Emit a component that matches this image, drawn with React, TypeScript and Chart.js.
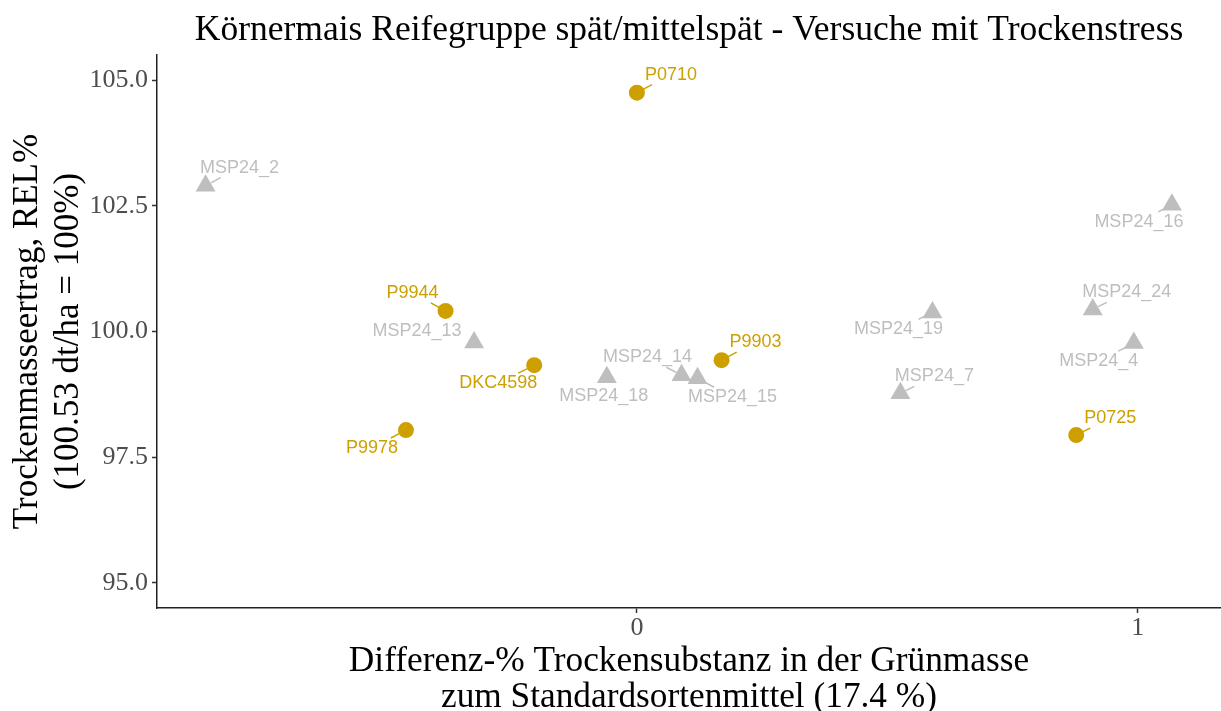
import React, { useEffect, useRef } from 'react';
import { Chart, registerables } from 'chart.js';

Chart.register(...registerables);

// ---- data ----
const chartTitle = 'Körnermais Reifegruppe spät/mittelspät - Versuche mit Trockenstress';
const xTitleLines = ['Differenz-% Trockensubstanz in der Grünmasse', 'zum Standardsortenmittel (17.4 %)'];
const yTitleLines = ['Trockenmasseertrag, REL%', '(100.53 dt/ha = 100%)'];

const sortenNames = ['P0710', 'P9944', 'DKC4598', 'P9978', 'P9903', 'P0725'];
const sortenX = [0.0, -0.382, -0.205, -0.461, 0.169, 0.877];
const sortenY = [104.75, 100.41, 99.33, 98.04, 99.43, 97.94];

const mspNames = ['MSP24_2', 'MSP24_13', 'MSP24_18', 'MSP24_14', 'MSP24_15', 'MSP24_7', 'MSP24_19', 'MSP24_24', 'MSP24_4', 'MSP24_16'];
const mspX = [-0.861, -0.325, -0.06, 0.089, 0.121, 0.526, 0.59, 0.91, 0.992, 1.068];
const mspY = [102.9, 99.78, 99.09, 99.13, 99.07, 98.77, 100.38, 100.44, 99.77, 102.52];

const yTicks = [95, 97.5, 100, 102.5, 105];
const xTicks = [0, 1];

// ---- styling / layout ----
const GOLD = '#CDA000';
const GREY = '#BEBEBE';
const SERIF = '"Liberation Serif", "Times New Roman", serif';
const SANS = '"Liberation Sans", Arial, sans-serif';

// repel-style label placement (pixel offsets of label centre from its point)
const labelOffsets: Record<string, [number, number]> = {
  P0710: [34, -18],
  P9944: [-33, -18],
  DKC4598: [-36, 18],
  P9978: [-34, 18],
  P9903: [34, -18],
  P0725: [34, -17],
  MSP24_2: [34, -18],
  MSP24_13: [-57, -12],
  MSP24_18: [-3, 19],
  MSP24_14: [-34, -18],
  MSP24_15: [35, 19],
  MSP24_7: [34, -17],
  MSP24_19: [-34, 17],
  MSP24_24: [34, -17],
  MSP24_4: [-35, 18],
  MSP24_16: [-33, 17],
};

const labelPlugin = {
  id: 'repelLabels',
  afterDatasetsDraw(chart: any) {
    const ctx = chart.ctx;
    ctx.save();
    ctx.font = `18px ${SANS}`;
    ctx.textAlign = 'center';
    ctx.textBaseline = 'middle';
    chart.data.datasets.forEach((ds: any, di: number) => {
      const meta = chart.getDatasetMeta(di);
      const color = ds.labelColor;
      const rStart = ds.segStart;
      meta.data.forEach((el: any, i: number) => {
        const name = ds.names[i];
        const off = labelOffsets[name] || [0, -18];
        const px = el.x;
        const py = el.y;
        const tx = px + off[0];
        const ty = py + off[1];
        const w = ctx.measureText(name).width;
        const pad = 3;
        const bx0 = tx - w / 2 - pad;
        const bx1 = tx + w / 2 + pad;
        const by0 = ty - 7 - pad;
        const by1 = ty + 7 + pad;
        const dx = tx - px;
        const dy = ty - py;
        const full = Math.hypot(dx, dy);
        const slab = (p: number, d: number, a: number, b: number) => {
          if (Math.abs(d) < 1e-9) return -Infinity;
          return Math.min((a - p) / d, (b - p) / d);
        };
        const tEnter = Math.max(0, slab(px, dx, bx0, bx1), slab(py, dy, by0, by1));
        const endLen = tEnter * full;
        if (endLen - rStart > 5) {
          const ux = dx / full;
          const uy = dy / full;
          ctx.strokeStyle = color;
          ctx.lineWidth = 1.5;
          ctx.beginPath();
          ctx.moveTo(px + ux * rStart, py + uy * rStart);
          ctx.lineTo(px + ux * endLen, py + uy * endLen);
          ctx.stroke();
        }
        ctx.fillStyle = color;
        ctx.fillText(name, tx, ty);
      });
    });
    ctx.restore();
  },
};

const titlePlugin = {
  id: 'plotTitle',
  afterDraw(chart: any) {
    const { ctx, chartArea } = chart;
    ctx.save();
    ctx.font = `35.5px ${SERIF}`;
    ctx.fillStyle = '#000';
    ctx.textAlign = 'center';
    ctx.textBaseline = 'alphabetic';
    ctx.fillText(chartTitle, (chartArea.left + chartArea.right) / 2, 40);
    ctx.restore();
  },
};

export default function App() {
  const canvasRef = useRef<HTMLCanvasElement | null>(null);

  useEffect(() => {
    if (!canvasRef.current) return;
    const chart = new Chart(canvasRef.current, {
      type: 'scatter',
      data: {
        datasets: [
          {
            label: 'MSP',
            data: mspX.map((x, i) => ({ x, y: mspY[i] })),
            pointStyle: 'triangle',
            pointRadius: 11.5,
            pointHoverRadius: 11.5,
            backgroundColor: GREY,
            borderColor: GREY,
            borderWidth: 0,
            names: mspNames,
            labelColor: GREY,
            segStart: 6,
          } as any,
          {
            label: 'Sorten',
            data: sortenX.map((x, i) => ({ x, y: sortenY[i] })),
            pointStyle: 'circle',
            pointRadius: 8,
            pointHoverRadius: 8,
            backgroundColor: GOLD,
            borderColor: GOLD,
            borderWidth: 0,
            names: sortenNames,
            labelColor: GOLD,
            segStart: 7,
          } as any,
        ],
      },
      options: {
        responsive: false,
        animation: false,
        events: [],
        layout: { autoPadding: false, padding: { top: 55, left: 0, right: 0, bottom: 0 } },
        plugins: {
          legend: { display: false },
          tooltip: { enabled: false },
          title: { display: false },
        },
        scales: {
          x: {
            type: 'linear',
            min: -0.958,
            max: 1.166,
            afterBuildTicks: (s: any) => {
              s.ticks = xTicks.map((v) => ({ value: v }));
            },
            afterFit: (s: any) => {
              s.height = 103;
              s.paddingLeft = 0;
              s.paddingRight = 0;
            },
            ticks: {
              autoSkip: false,
              padding: 0,
              color: '#4d4d4d',
              font: { family: SERIF, size: 26 },
              callback: (v: any) => String(v),
            },
            grid: {
              drawOnChartArea: false,
              drawTicks: true,
              tickLength: 5,
              tickWidth: 1.5,
              color: '#333',
            },
            border: { display: true, color: '#222', width: 1.5 },
            title: {
              display: true,
              text: xTitleLines,
              color: '#000',
              font: { family: SERIF, size: 35.3, lineHeight: 1.0 },
              padding: { top: 0, bottom: -4 },
            },
          },
          y: {
            type: 'linear',
            min: 94.5,
            max: 105.5,
            afterBuildTicks: (s: any) => {
              s.ticks = yTicks.map((v) => ({ value: v }));
            },
            afterFit: (s: any) => {
              s.width = 157;
              s.paddingTop = 0;
              s.paddingBottom = 0;
            },
            ticks: {
              autoSkip: false,
              padding: 4,
              color: '#4d4d4d',
              font: { family: SERIF, size: 26 },
              callback: (v: any) => Number(v).toFixed(1),
            },
            grid: {
              drawOnChartArea: false,
              drawTicks: true,
              tickLength: 5,
              tickWidth: 1.5,
              color: '#333',
            },
            border: { display: true, color: '#222', width: 1.5 },
            title: {
              display: true,
              text: yTitleLines,
              color: '#000',
              font: { family: SERIF, size: 35, lineHeight: 1.17 },
              padding: { top: 7, bottom: 0 },
            },
          },
        },
      },
      plugins: [labelPlugin, titlePlugin],
    });
    return () => chart.destroy();
  }, []);

  return (
    <div style={{ position: 'absolute', left: 0, top: 0, width: 1221, height: 711, background: '#fff' }}>
      <canvas ref={canvasRef} width={1221} height={711} style={{ display: 'block' }} />
    </div>
  );
}
